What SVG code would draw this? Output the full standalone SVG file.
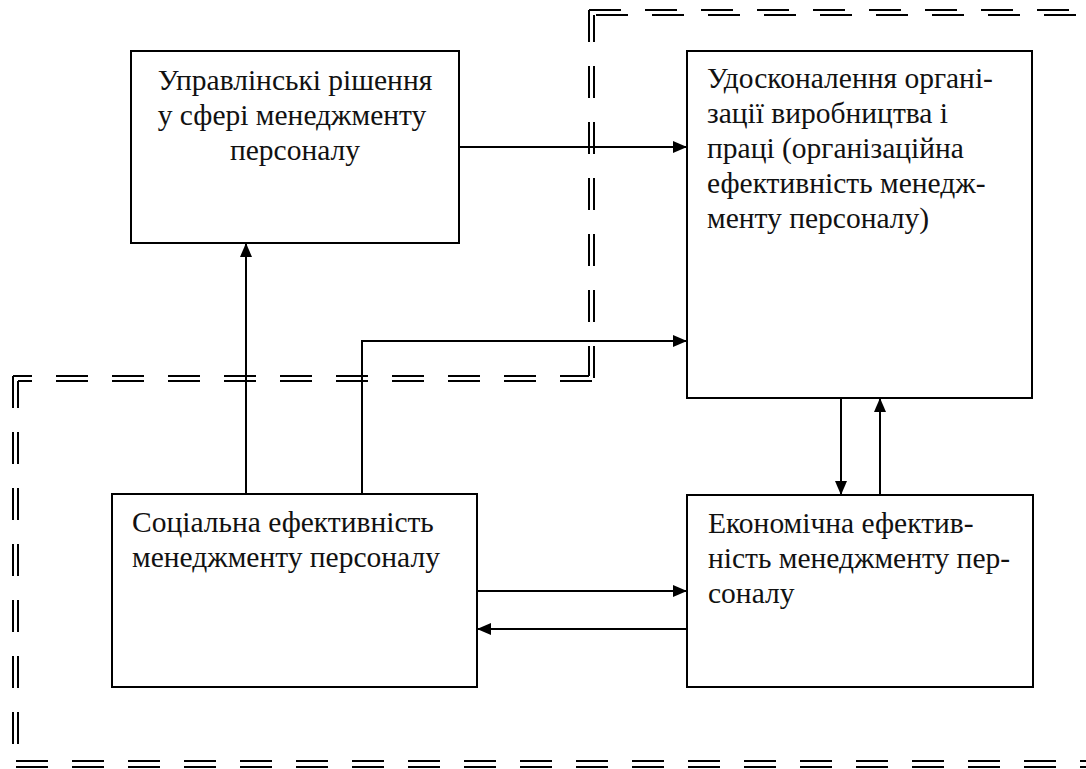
<svg xmlns="http://www.w3.org/2000/svg" width="1086" height="769" viewBox="0 0 1086 769" font-family="'Liberation Serif', 'Times New Roman', serif" xml:lang="uk">
<defs>
<style>
.box{fill:#fff;stroke:#000;stroke-width:2}
.c{fill:none;stroke:#000;stroke-width:2}
.d{fill:none;stroke:#000;stroke-width:2;stroke-dasharray:32 24}
</style>
<marker id="ah" viewBox="0 0 14 12" refX="14" refY="6" markerWidth="14" markerHeight="12" markerUnits="userSpaceOnUse" orient="auto">
<path d="M0,0 L14,6 L0,12 Z" fill="#000"/>
</marker>
</defs>
<rect width="1086" height="769" fill="#fff"/>
<g id="boundaries">
<line class="d" x1="589" y1="10" x2="1086" y2="10"/>
<line class="d" x1="594" y1="15" x2="1086" y2="15" stroke-dashoffset="-2"/>
<line class="d" x1="589" y1="10" x2="589" y2="376"/>
<line class="d" x1="594" y1="15" x2="594" y2="381" stroke-dashoffset="5"/>
<line class="d" x1="13" y1="376" x2="589" y2="376" stroke-dashoffset="13"/>
<line class="d" x1="18" y1="381" x2="594" y2="381" stroke-dashoffset="18"/>
<line class="d" x1="13" y1="376" x2="13" y2="748"/>
<line class="d" x1="18" y1="381" x2="18" y2="748" stroke-dashoffset="5"/>
<line class="d" x1="16" y1="761" x2="1086" y2="761"/>
<line class="d" x1="16" y1="767" x2="1086" y2="767"/>
</g>
<g id="n1" font-size="29.5" fill="#111">
<rect class="box" x="131" y="51" width="328" height="192"/>
<text x="295" y="90" text-anchor="middle">Управлінські рішення</text>
<text x="292" y="125" text-anchor="middle">у сфері менеджменту</text>
<text x="295" y="160" text-anchor="middle">персоналу</text>
</g>
<g id="n2" font-size="29.5" fill="#111">
<rect class="box" x="687" y="51" width="345" height="347"/>
<text x="707" y="88">Удосконалення органі-</text>
<text x="707" y="123">зації виробництва і</text>
<text x="707" y="158">праці (організаційна</text>
<text x="707" y="193">ефективність менедж-</text>
<text x="707" y="228">менту персоналу)</text>
</g>
<g id="n3" font-size="29.5" fill="#111">
<rect class="box" x="112" y="494" width="365" height="193"/>
<text x="132" y="532">Соціальна ефективність</text>
<text x="132" y="567">менеджменту персоналу</text>
</g>
<g id="n4" font-size="29.5" fill="#111">
<rect class="box" x="687" y="495" width="346" height="192"/>
<text x="708" y="533">Економічна ефектив-</text>
<text x="708" y="568">ність менеджменту пер-</text>
<text x="708" y="603">соналу</text>
</g>
<g id="connectors">
<line class="c" x1="459" y1="147" x2="687" y2="147" marker-end="url(#ah)"/>
<line class="c" x1="246" y1="494" x2="246" y2="243" marker-end="url(#ah)"/>
<polyline class="c" points="362,494 362,341 687,341" marker-end="url(#ah)"/>
<line class="c" x1="841" y1="398" x2="841" y2="495" marker-end="url(#ah)"/>
<line class="c" x1="880" y1="495" x2="880" y2="398" marker-end="url(#ah)"/>
<line class="c" x1="477" y1="591" x2="687" y2="591" marker-end="url(#ah)"/>
<line class="c" x1="687" y1="629" x2="477" y2="629" marker-end="url(#ah)"/>
</g>
</svg>
